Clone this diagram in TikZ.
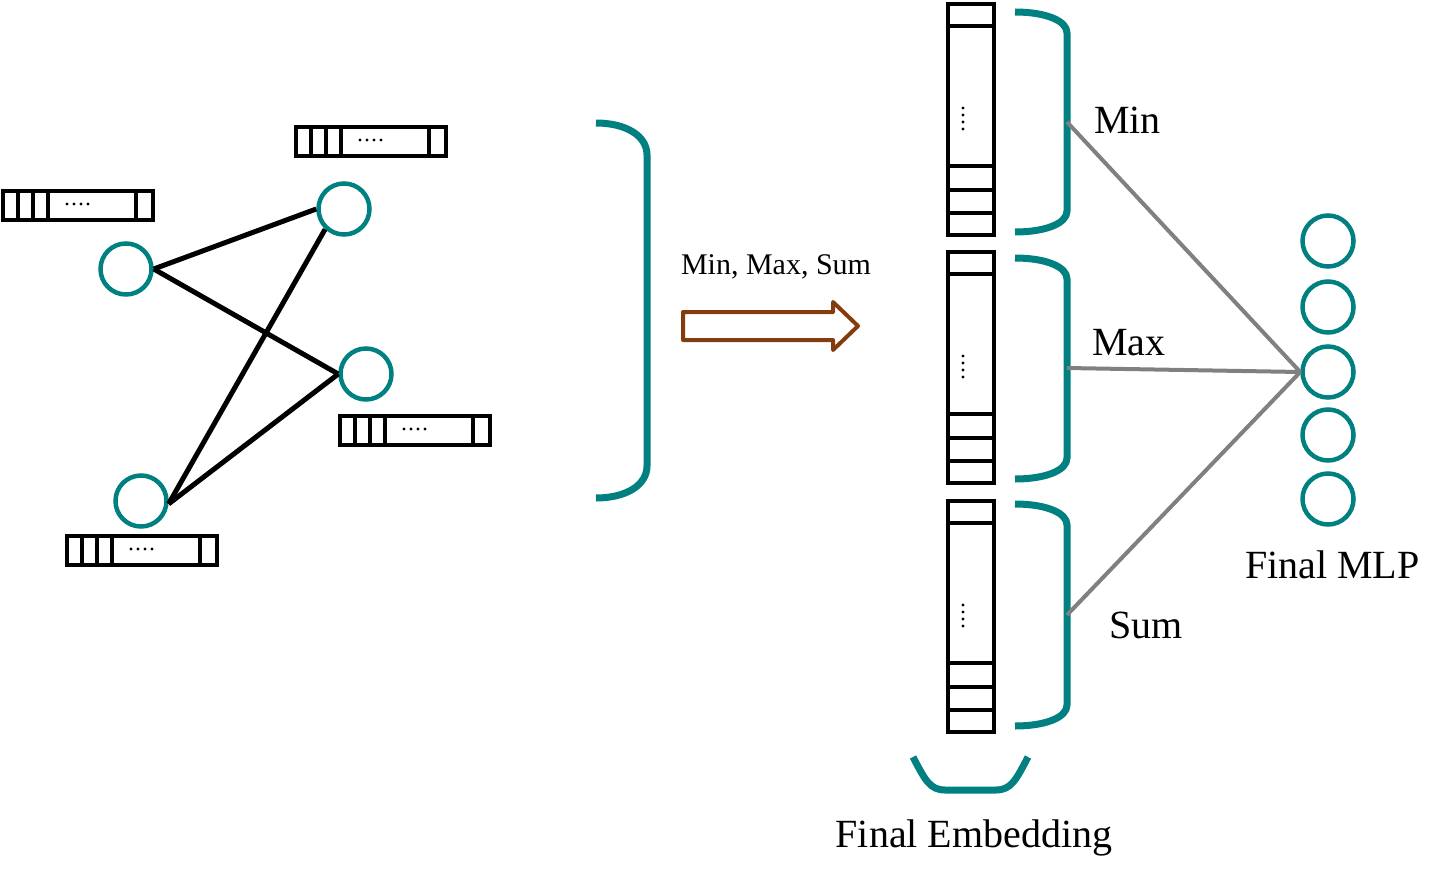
\documentclass[tikz,border=0pt]{standalone}
\usepackage{fontspec}
\setmainfont{Liberation Serif}
\definecolor{tealc}{RGB}{0,128,128}
\definecolor{brownc}{RGB}{132,60,12}
\definecolor{grayc}{RGB}{128,128,128}
\tikzset{every path/.style={line width=4pt}}
\tikzset{vert/.style={circle,draw=tealc,line width=4.5pt,minimum size=51pt,inner sep=0pt}}
\tikzset{lab/.style={inner sep=0pt,anchor=base west,font=\fontsize{40}{48}\selectfont}}

% feature bar of a graph node, top left corner at (#1,#2)
\newcommand{\featbar}[2]{%
\draw (#1,#2) rectangle ++(150,29);
\draw (#1+15,#2) -- ++(0,29);
\draw (#1+30,#2) -- ++(0,29);
\draw (#1+45,#2) -- ++(0,29);
\draw (#1+133,#2) -- ++(0,29);
\foreach \d in {0,7,14,21} \fill (#1+64+\d,#2+13) circle[radius=1.6];
}

% column of the final embedding, top at y=#1
\newcommand{\embcol}[1]{%
\draw (948,#1) rectangle (994,#1+231);
\draw (948,#1+22) -- (994,#1+22);
\draw (948,#1+162) -- (994,#1+162);
\draw (948,#1+186) -- (994,#1+186);
\draw (948,#1+209) -- (994,#1+209);
\foreach \d in {0,7,14,21} \fill (963,#1+104+\d) circle[radius=1.6];
}

% teal bracket: #1 left x, #2 right x, #3 top y, #4 bottom y, #5 bend
\newcommand{\tbrace}[5]{%
\draw[tealc,line width=7pt] (#1,#3) .. controls (#1+30,#3) and (#2,#3+#5*0.4) .. (#2,#3+#5) -- (#2,#4-#5) .. controls (#2,#4-#5*0.4) and (#1+30,#4) .. (#1,#4);
}

\begin{document}
\begin{tikzpicture}[x=1pt,y=-1pt]
\useasboundingbox (0,0) rectangle (1437,875);

%graph
\node[vert] (va) at (126,269) {};
\node[vert] (vb) at (344,209) {};
\node[vert] (vc) at (366,374) {};
\node[vert] (vd) at (141,501) {};
\draw[line width=5pt] (va.east) -- (vb.west);
\draw[line width=5pt] (va.east) -- (vc.west);
\draw[line width=5pt] (vb.227) -- (vd.-6);
\draw[line width=5pt] (vc.west) -- (vd.-6);
\featbar{3}{191}
\featbar{296}{127}
\featbar{340}{416}
\featbar{67}{536}
\tbrace{596}{647}{123}{498}{32}

%aggregation
\node[inner sep=0pt,anchor=base west,font=\fontsize{30}{36}\selectfont] (agg) at (679,274) {Min, Max, Sum};
\draw[brownc,line join=round] (683,312) -- (833,312) -- (833,302) -- (858,326) -- (833,350) -- (833,340) -- (683,340) -- cycle;

%final embedding
\embcol{4}
\embcol{252}
\embcol{501}
\tbrace{1015}{1067}{12}{232}{21}
\tbrace{1015}{1067}{258}{479}{21}
\tbrace{1015}{1067}{504}{726}{21}
\draw[tealc,line width=7pt] (913,757) .. controls (925,780) and (930,790) .. (945,790) -- (996,790) .. controls (1011,790) and (1016,780) .. (1028,757);
\node[inner sep=0pt,anchor=base,font=\fontsize{40}{48}\selectfont] (emb) at (974,847) {Final Embedding};
\node[lab] (lmin) at (1092,133) {Min};
\node[lab] (lmax) at (1090,355) {Max};
\node[lab] (lsum) at (1107,638) {Sum};
\coordinate (bmin) at (1067,122);
\coordinate (bmax) at (1067,368);
\coordinate (bsum) at (1067,615);

%mlp
\node[vert] (m1) at (1328,241) {};
\node[vert] (m2) at (1328,307) {};
\node[vert] (m3) at (1328,372) {};
\node[vert] (m4) at (1328,435) {};
\node[vert] (m5) at (1328,499) {};
\draw[grayc] (bmin) -- (m3.west);
\draw[grayc] (bmax) -- (m3.west);
\draw[grayc] (bsum) -- (m3.west);
\node[lab] (lmlp) at (1243,578) {Final MLP};
\end{tikzpicture}
\end{document}
